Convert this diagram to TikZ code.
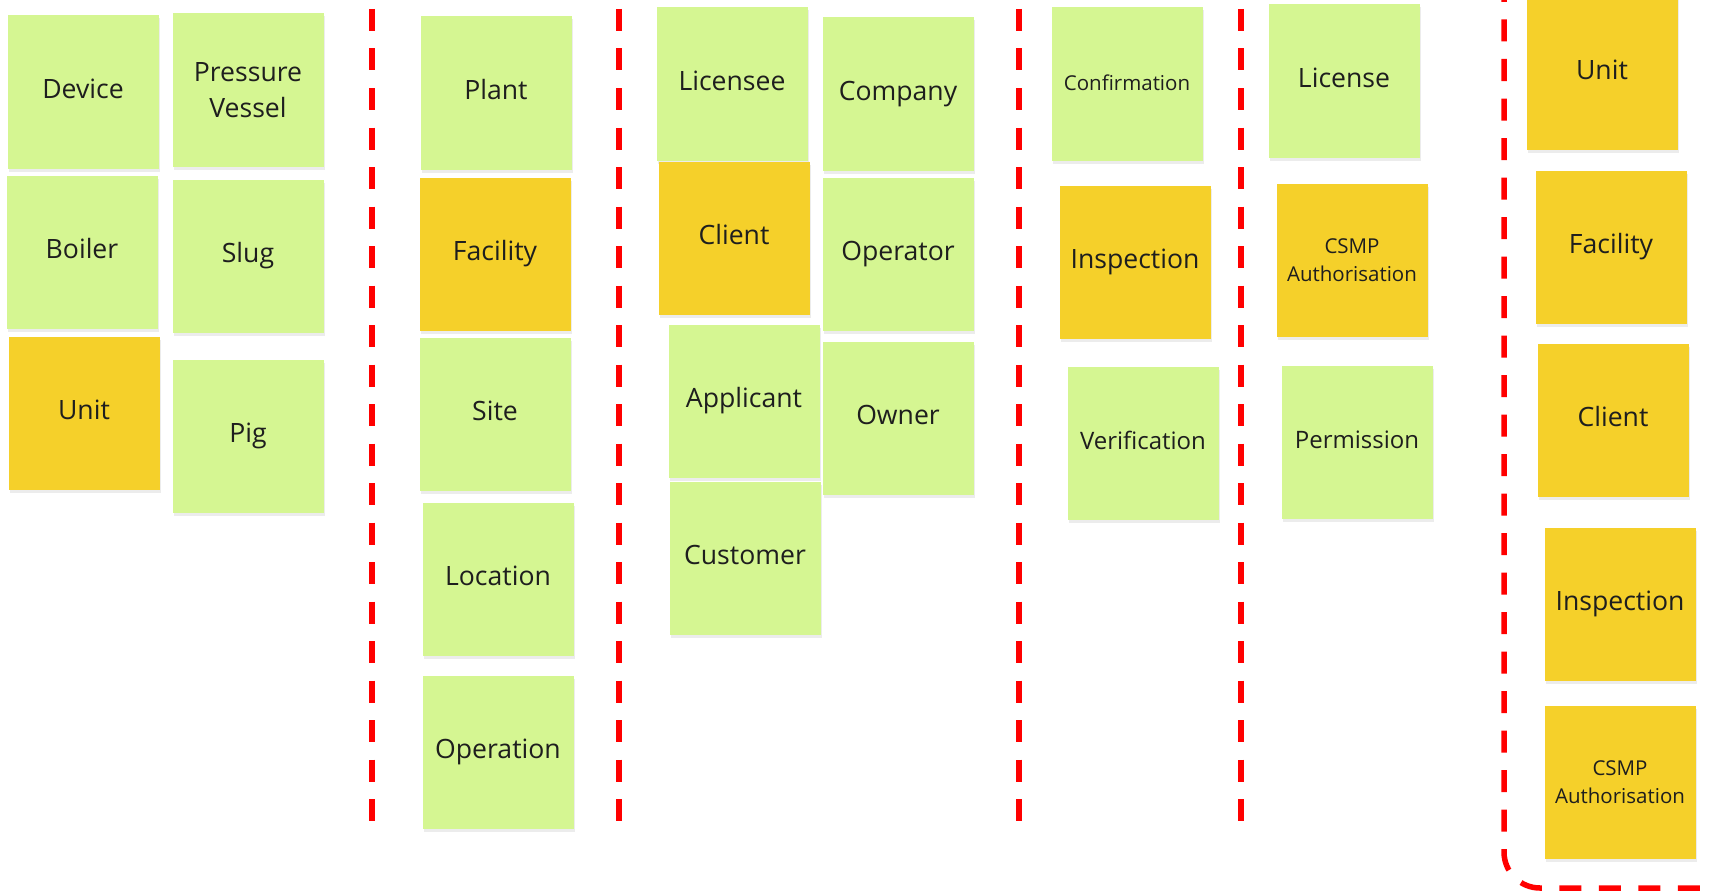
\documentclass[tikz,border=0pt]{standalone}
\usepackage{fontspec}
\setmainfont{Open Sans}
\usetikzlibrary{shadows}
\definecolor{stgreen}{RGB}{213,246,146}
\definecolor{styellow}{RGB}{245,208,42}
\definecolor{stred}{RGB}{255,0,0}
\definecolor{sttext}{RGB}{30,30,30}

\begin{document}
\begin{tikzpicture}[x=1pt,y=-1pt,
  sticky/.style={minimum width=151pt, minimum height=153pt, inner sep=0pt, align=center,
    text=sttext, font=\fontsize{26.6}{36}\selectfont, text height=19pt, text depth=6.5pt,
    drop shadow={opacity=0.15, shadow xshift=1pt, shadow yshift=-3pt}},
  gnote/.style={sticky, fill=stgreen},
  ynote/.style={sticky, fill=styellow},
  twoline/.style={text height={}, text depth={}},
  smalltext/.style={font=\fontsize{20.5}{28}\selectfont},
  midtext/.style={font=\fontsize{24}{32}\selectfont},
  divider/.style={stred, line width=5.5pt, dash pattern=on 22pt off 17.5pt}]
\clip (0,0) rectangle (1710,891);

% Column 1: equipment
\node[gnote] (device) at (83,92) {Device};
\node[gnote] (boiler) at (82,252) {Boiler};
\node[ynote] (unitA) at (84,413) {Unit};
\node[gnote, twoline] (pvessel) at (248,90) {Pressure\\Vessel};
\node[gnote] (slug) at (248,256) {Slug};
\node[gnote] (pig) at (248,436) {Pig};

% Column 2: places
\node[gnote] (plant) at (496,93) {Plant};
\node[ynote] (facilityA) at (495,254) {Facility};
\node[gnote] (site) at (495,414) {Site};
\node[gnote] (location) at (498,579) {Location};
\node[gnote] (operation) at (498,752) {Operation};

% Column 3: parties
\node[gnote] (licensee) at (732,84) {Licensee};
\node[ynote] (clientA) at (734,238) {Client};
\node[gnote] (applicant) at (744,401) {Applicant};
\node[gnote] (customer) at (745,558) {Customer};
\node[gnote] (company) at (898,94) {Company};
\node[gnote] (operator) at (898,254) {Operator};
\node[gnote] (owner) at (898,418) {Owner};

% Column 4: checks
\node[gnote, smalltext] (confirm) at (1127,84) {Confirmation};
\node[ynote] (inspectionA) at (1135,262) {Inspection};
\node[gnote, midtext] (verify) at (1143,443) {Verification};

% Column 5: approvals
\node[gnote] (license) at (1344,81) {License};
\node[ynote, smalltext, twoline] (csmpA) at (1352,260) {CSMP\\Authorisation};
\node[gnote, midtext] (permission) at (1357,442) {Permission};

% Chosen terms
\node[ynote] (unitB) at (1602,73) {Unit};
\node[ynote] (facilityB) at (1611,247) {Facility};
\node[ynote] (clientB) at (1613,420) {Client};
\node[ynote] (inspectionB) at (1620,604) {Inspection};
\node[ynote, smalltext, twoline] (csmpB) at (1620,782) {CSMP\\Authorisation};

% Dividers
\foreach \x in {372,619,1019,1241} {
    \draw[divider] (\x,9) -- (\x,822);
}
\draw[divider, rounded corners=36pt] (1504,-20) -- (1504,888) -- (1745,888);
\end{tikzpicture}
\end{document}
